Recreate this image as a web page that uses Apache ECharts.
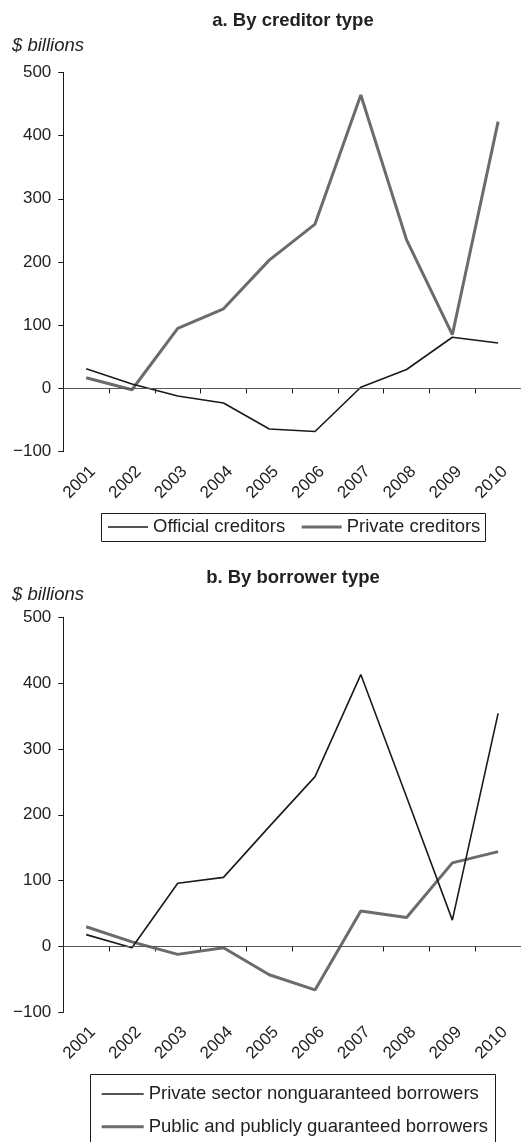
<!DOCTYPE html>
<html>
<head>
<meta charset="utf-8">
<script src="https://cdn.jsdelivr.net/npm/echarts@6/dist/echarts.min.js"></script>
<style>
html,body{margin:0;padding:0;background:#fff;}
#c{width:521px;height:1142px;}
</style>
</head>
<body>
<div id="c"></div>
<script>
const years = ['2001','2002','2003','2004','2005','2006','2007','2008','2009','2010'];
const yTicks = [-100, 0, 100, 200, 300, 400, 500];
const officialCreditors = [31, 7, -12, -23, -64, -68, 2, 30, 81, 72];
const privateCreditors = [17, -2, 95, 126, 203, 260, 464, 235, 85, 422];
const privateNonguaranteed = [18, -2, 96, 105, 182, 258, 413, 227, 40, 354];
const publicGuaranteed = [30, 7, -12, -2, -43, -66, 54, 44, 127, 144];

const FONT = "'Liberation Sans', Arial, Helvetica, sans-serif";
const TXT = '#222';
const BLACK = '#1a1a1a';
const GRAY = '#6b6b6b';
const BIG = 18.5;

const chart = echarts.init(document.getElementById('c'), null, {renderer: 'canvas'});

function xAxisCfg(gi) {
  return {
    type: 'category', gridIndex: gi, data: years, boundaryGap: true,
    axisLine: {show: true, lineStyle: {color: BLACK, width: 1}},
    axisTick: {show: true, length: 5, interval: 0, lineStyle: {color: BLACK}},
    axisLabel: {interval: 0, rotate: 45, margin: 10.5, verticalAlign: 'top', lineHeight: 19,
      fontSize: 17, color: TXT, fontFamily: FONT},
    splitLine: {show: false}
  };
}
function yAxisCfg(gi) {
  return {
    type: 'value', gridIndex: gi, min: yTicks[0], max: yTicks[yTicks.length - 1], interval: 100,
    axisLine: {show: true, lineStyle: {color: BLACK, width: 1}},
    axisTick: {show: true, length: 5, lineStyle: {color: BLACK}},
    axisLabel: {margin: 12, fontSize: 17, color: TXT, fontFamily: FONT,
      formatter: function (v) { return String(v).replace('-', '\u2212'); }},
    splitLine: {show: false}
  };
}
const zeroLine = {
  silent: true, symbol: 'none', label: {show: false},
  lineStyle: {color: '#555', width: 1, type: 'solid'},
  data: [{yAxis: 0}]
};
function lineSeries(name, data, gi, color, width, withZero) {
  const s = {
    name: name, type: 'line', xAxisIndex: gi, yAxisIndex: gi, data: data,
    symbol: 'none', showSymbol: false, smooth: false,
    lineStyle: {color: color, width: width}, itemStyle: {color: color},
    z: width > 2 ? 3 : 4
  };
  if (withZero) s.markLine = zeroLine;
  return s;
}
function legendCfg(name, left, centerY, w, h, color) {
  return {
    data: [{name: name, icon: 'rect', itemStyle: {color: color}}],
    left: left, top: centerY - 11, padding: 0,
    itemWidth: w, itemHeight: h, itemGap: 0,
    textStyle: {fontSize: BIG, color: TXT, fontFamily: FONT, lineHeight: 22}
  };
}

chart.setOption({
  animation: false,
  backgroundColor: '#fff',
  textStyle: {fontFamily: FONT},
  grid: [
    {left: 63.3, top: 72.3, width: 460, height: 379.4},
    {left: 63.3, top: 617.3, width: 460, height: 395}
  ],
  xAxis: [xAxisCfg(0), xAxisCfg(1)],
  yAxis: [yAxisCfg(0), yAxisCfg(1)],
  legend: [
    legendCfg('Official creditors', 108, 527, 40, 1.6, BLACK),
    legendCfg('Private creditors', 301.7, 527, 40, 3, GRAY),
    legendCfg('Private sector nonguaranteed borrowers', 101.7, 1094, 42, 1.6, BLACK),
    legendCfg('Public and publicly guaranteed borrowers', 101.7, 1126.7, 42, 3, GRAY)
  ],
  graphic: [
    {type: 'text', x: 293, y: 21, style: {text: 'a. By creditor type', textAlign: 'center', textVerticalAlign: 'middle', font: 'bold ' + BIG + 'px ' + FONT, fill: TXT}},
    {type: 'text', x: 12, y: 46, style: {text: '$ billions', textAlign: 'left', textVerticalAlign: 'middle', font: 'italic ' + BIG + 'px ' + FONT, fill: TXT}},
    {type: 'text', x: 293, y: 578, style: {text: 'b. By borrower type', textAlign: 'center', textVerticalAlign: 'middle', font: 'bold ' + BIG + 'px ' + FONT, fill: TXT}},
    {type: 'text', x: 12, y: 595, style: {text: '$ billions', textAlign: 'left', textVerticalAlign: 'middle', font: 'italic ' + BIG + 'px ' + FONT, fill: TXT}},
    {type: 'rect', shape: {x: 101.5, y: 513.5, width: 384, height: 28}, style: {fill: 'none', stroke: BLACK, lineWidth: 1}},
    {type: 'rect', shape: {x: 90.5, y: 1074.5, width: 405, height: 90}, style: {fill: 'none', stroke: BLACK, lineWidth: 1}}
  ],
  series: [
    lineSeries('Official creditors', officialCreditors, 0, BLACK, 1.6, true),
    lineSeries('Private creditors', privateCreditors, 0, GRAY, 3, false),
    lineSeries('Private sector nonguaranteed borrowers', privateNonguaranteed, 1, BLACK, 1.6, true),
    lineSeries('Public and publicly guaranteed borrowers', publicGuaranteed, 1, GRAY, 3, false)
  ]
});
</script>
</body>
</html>
